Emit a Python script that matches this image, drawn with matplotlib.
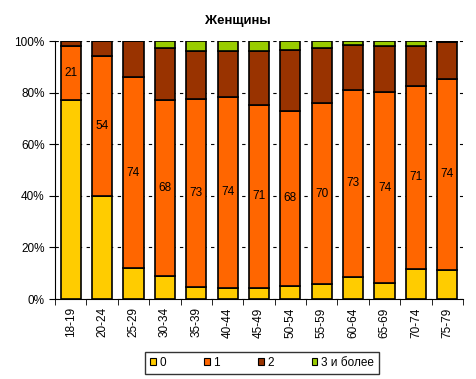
import matplotlib
matplotlib.use("Agg")
import matplotlib.pyplot as plt
import numpy as np

plt.rcParams['font.family'] = ['Liberation Sans', 'DejaVu Sans']

# данные
ages = ['18-19', '20-24', '25-29', '30-34', '35-39', '40-44', '45-49',
        '50-54', '55-59', '60-64', '65-69', '70-74', '75-79']
s0 = [77, 40, 12, 9, 4.6, 4.3, 4.3, 5, 5.8, 8.7, 6.2, 11.7, 11.4]
s1 = [21, 54, 74, 68, 73, 74, 71, 68, 70, 72.3, 74, 71, 74]
s2 = [2, 6, 14, 20.4, 18.5, 17.8, 20.8, 23.6, 21.6, 17.6, 18, 15.5, 14.3]
s3 = [0, 0, 0, 2.6, 3.9, 3.9, 3.9, 3.4, 2.6, 1.4, 1.8, 1.8, 0.3]
labels1 = [21, 54, 74, 68, 73, 74, 71, 68, 70, 73, 74, 71, 74]
series_names = ['0', '1', '2', '3 и более']
colors = ['#FFCC00', '#FF6600', '#993300', '#99CC00']

fig = plt.figure(figsize=(4.77, 3.79), dpi=100)
ax = fig.add_axes([55 / 477, 1 - 299 / 379, 408 / 477, 258 / 379])

x = np.arange(len(ages))
bottom = np.zeros(len(ages))
bars = []
for vals, c, name in zip([s0, s1, s2, s3], colors, series_names):
    b = ax.bar(x, vals, width=0.64, bottom=bottom, color=c,
               edgecolor='black', linewidth=1.2, label=name, zorder=3)
    bars.append(b)
    bottom += np.array(vals)

# подписи внутри оранжевого сегмента
for i, lab in enumerate(labels1):
    ax.text(x[i], s0[i] + s1[i] / 2, str(lab), ha='center', va='center',
            fontsize=8.5, zorder=4)

ax.set_xlim(-0.5, len(ages) - 0.5)
ax.set_ylim(0, 100)
ax.set_yticks(np.arange(0, 101, 20))
ax.set_yticklabels([f'{v}%' for v in range(0, 101, 20)], fontsize=8.5)
ax.yaxis.grid(True, linestyle=(0, (3, 4)), color='black', linewidth=0.8, zorder=0)

ax.set_xticks(x)
ax.set_xticklabels(ages, rotation=90, fontsize=8.5)
ax.tick_params(axis='x', length=0, pad=6)
ax.set_xticks(np.arange(-0.5, len(ages)), minor=True)
ax.tick_params(axis='x', which='minor', length=4, direction='out')
ax.tick_params(axis='y', length=4, direction='out')

for side in ['top', 'right']:
    ax.spines[side].set_visible(False)

fig.text(238 / 477, 1 - 21 / 379, 'Женщины', ha='center', va='center',
         fontsize=9.5, fontweight='bold')

leg = fig.legend(handles=bars, labels=series_names, loc='center',
                 bbox_to_anchor=(262 / 477, 1 - 363 / 379), ncol=4,
                 fontsize=8.5, frameon=True, fancybox=False, edgecolor='black',
                 handlelength=0.5, handleheight=0.5, handletextpad=0.3,
                 columnspacing=3.2, borderpad=0.45)
leg.get_frame().set_linewidth(1.0)
for h in leg.legend_handles:
    h.set_linewidth(0.8)

fig.savefig('out.png', dpi=100)
